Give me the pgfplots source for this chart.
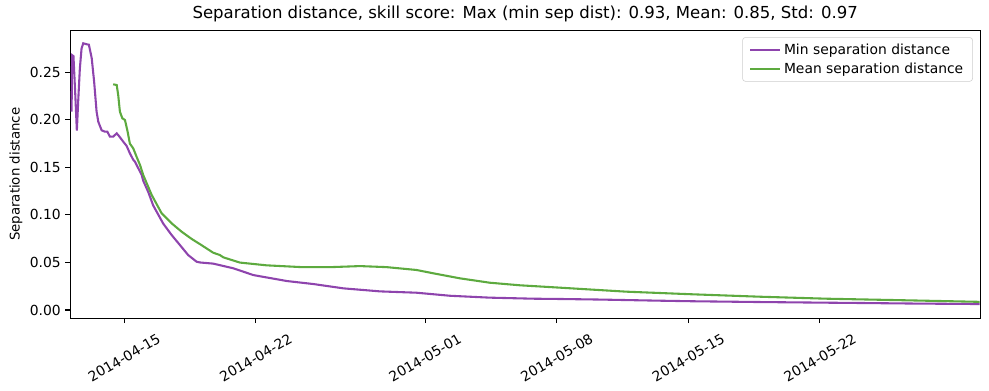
\documentclass[border=0pt]{standalone}
\usepackage{fontspec}
\setmainfont{DejaVu Sans}
\usepackage{pgfplots}
\pgfplotsset{compat=1.18}
\definecolor{cmin}{HTML}{8E44AD}
\definecolor{cmean}{HTML}{5DAA3F}
\begin{document}
\begin{tikzpicture}
\useasboundingbox (-52.7pt,-53.8pt) rectangle (689.0pt,238.7pt);
\begin{axis}[
  scale only axis,
  width=682.3pt, height=216pt,
  xmin=-2.87, xmax=45.52,
  ymin=-0.0087, ymax=0.2942,
  axis line style={line width=0.83pt},
  tick style={line width=0.83pt, black},
  tick align=outside,
  major tick length=3.65pt,
  xtick pos=left, ytick pos=left,
  xtick={0,7,16,23,30,37},
  xticklabels={2014-04-15,2014-04-22,2014-05-01,2014-05-08,2014-05-15,2014-05-22},
  ytick={0,0.05,0.10,0.15,0.20,0.25},
  /pgf/number format/assume math mode=true,
  yticklabel style={/pgf/number format/.cd, fixed, fixed zerofill, precision=2},
  tick label style={font=\fontsize{10.4pt}{12pt}\selectfont},
  xticklabel style={anchor=center, yshift=-26pt, rotate=30},
  ylabel={Separation distance},
  ylabel style={font=\fontsize{10.4pt}{12pt}\selectfont},
  every axis y label/.style={at={(axis description cs:-0.0597,0.5)}, rotate=90, anchor=center},
  title={Separation distance, skill score: Max (min sep dist): 0.93, Mean: 0.85, Std: 0.97},
  every axis title/.style={at={(axis description cs:0.5,1)}, anchor=center, yshift=12.5pt, font=\fontsize{12.4pt}{14pt}\selectfont},
  legend style={at={(axis description cs:0.992,0.9757)}, anchor=north east,
    draw=black!20, rounded corners=2pt, font=\fontsize{10.4pt}{12pt}\selectfont,
    inner xsep=5pt, inner ysep=2.5pt, row sep=1pt,
    nodes={inner sep=2pt}},
  legend cell align=left,
  legend image code/.code={\draw[#1] (0pt,0pt) -- (22.5pt,0pt);},
]
\addplot[cmin, line width=1.56pt] coordinates {
(-2.80,0.2086) (-2.77,0.268) (-2.70,0.267) (-2.60,0.225) (-2.52,0.1886)
(-2.45,0.219) (-2.36,0.254) (-2.27,0.275) (-2.18,0.2805) (-2.00,0.2795)
(-1.88,0.279) (-1.73,0.265) (-1.60,0.240) (-1.47,0.2086) (-1.38,0.198)
(-1.20,0.189) (-1.03,0.1876) (-0.90,0.1876) (-0.76,0.1823) (-0.59,0.1823)
(-0.40,0.1858) (-0.28,0.183) (-0.05,0.177) (0.13,0.1725) (0.30,0.1648)
(0.48,0.158) (0.57,0.156) (0.93,0.142) (1.01,0.136) (1.28,0.124)
(1.54,0.110) (2.07,0.091) (2.52,0.0789) (2.96,0.0684) (3.40,0.0578)
(3.85,0.0508) (4.03,0.0500) (4.73,0.0488) (5.80,0.0439) (6.86,0.0368)
(7.22,0.0355) (8.28,0.0318) (8.64,0.0305) (10.07,0.0273) (11.65,0.0228)
(13.60,0.0196) (15.55,0.0182) (17.32,0.0150) (19.45,0.0130) (21.77,0.0119)
(23.18,0.0116) (25.30,0.0110) (28.5,0.0098) (30.3,0.0092) (33.8,0.0084)
(37.4,0.0077) (39.1,0.0074) (42.0,0.0068) (45.5,0.0063)
};
\addlegendentry{Min separation distance}
\addplot[cmean, line width=1.56pt] coordinates {
(-0.59,0.2374) (-0.40,0.2366) (-0.32,0.226) (-0.23,0.2086) (-0.10,0.2016)
(0.04,0.1998) (0.18,0.1876) (0.30,0.175) (0.48,0.170) (0.66,0.161)
(0.84,0.1525) (1.01,0.142) (1.46,0.121) (1.99,0.1017) (2.52,0.0912)
(3.05,0.0824) (3.59,0.0747) (4.05,0.0690) (4.73,0.0603) (5.09,0.0578)
(5.27,0.0554) (6.15,0.0499) (7.57,0.0470) (9.35,0.0452) (11.12,0.0452)
(12.54,0.0462) (13.96,0.0451) (15.55,0.0421) (16.44,0.0386) (17.86,0.0333)
(19.45,0.0287) (21.05,0.0260) (23.18,0.0235) (26.7,0.0193) (30.27,0.0165)
(33.8,0.0140) (37.36,0.0119) (40.9,0.0105) (45.5,0.0086)
};
\addlegendentry{Mean separation distance}
\end{axis}
\end{tikzpicture}
\end{document}
